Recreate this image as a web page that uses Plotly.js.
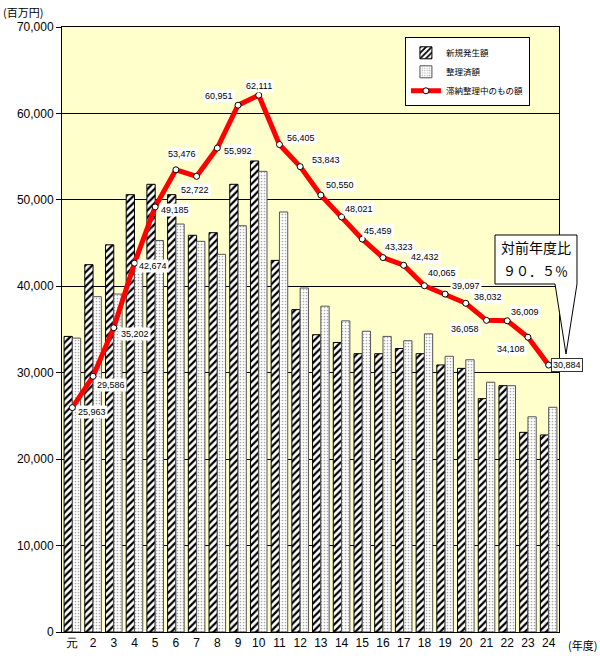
<!DOCTYPE html>
<html>
<head>
<meta charset="utf-8">
<script src="https://cdn.plot.ly/plotly-3.0.1.min.js"></script>
<style>html,body{margin:0;padding:0;background:#fff;}#chart{width:600px;height:660px;}</style>
</head>
<body>
<div id="chart"></div>
<script>
// ---- data ----
const years = ['元','2','3','4','5','6','7','8','9','10','11','12','13','14','15','16','17','18','19','20','21','22','23','24'];
const newAmount = [34200, 42500, 44800, 50600, 51800, 50600, 45900, 46200, 51800, 54500, 43000, 37300, 34400, 33500, 32200, 32200, 32800, 32200, 30900, 30500, 27000, 28500, 23100, 22800];
const settledAmount = [34000, 38800, 39100, 42700, 45300, 47200, 45200, 43700, 47000, 53300, 48600, 39800, 37700, 36000, 34800, 34200, 33700, 34500, 31900, 31500, 28900, 28500, 24900, 26000];
const pendingAmount = [25963, 29586, 35202, 42674, 49185, 53476, 52722, 55992, 60951, 62111, 56405, 53843, 50550, 48021, 45459, 43323, 42432, 40065, 39097, 38032, 36058, 36009, 34108, 30884];
const seriesNames = ['新規発生額', '整理済額', '滞納整理中のもの額'];

// ---- label offsets (style, pixels) ----
const labelDx = [20, 18, 21, 19, 20, 6, -2, 21, -19, 0, 22, 26, 19, 17, 16, 16, 21, 18, 21, 22, -22, 18, -17, 18];
const labelDy = [-4, -9, -6, -3, -3, 16, -14, -3, 9, 9, 7, 7, 10, 8, 8, 11, 8, 13, 8, 6, -9, 9, -12, 0];

const fmt = v => v.toLocaleString('en-US');
const numFont = 'Liberation Sans, Arial, sans-serif';
const jpFont = 'Noto Sans CJK JP, sans-serif';

const traces = [
  {
    type: 'bar', name: seriesNames[0], x: years, y: newAmount,
    marker: {color: '#ffffff', line: {color: '#000000', width: 1},
      pattern: {shape: '/', fgcolor: '#000000', bgcolor: '#ffffff', size: 5, solidity: 0.45}},
    hoverinfo: 'skip'
  },
  {
    type: 'bar', name: seriesNames[1], x: years, y: settledAmount,
    marker: {color: '#ffffff', line: {color: '#555555', width: 1},
      pattern: {shape: '.', fgcolor: '#aaaaaa', bgcolor: '#ffffff', size: 3, solidity: 0.25}},
    hoverinfo: 'skip'
  },
  {
    type: 'scatter', mode: 'lines+markers', name: seriesNames[2], x: years, y: pendingAmount,
    line: {color: '#ff0000', width: 5},
    marker: {symbol: 'circle', size: 6, color: '#ffffff', line: {color: '#000000', width: 1}},
    hoverinfo: 'skip'
  }
];

// category index i (numeric) so that names like '2' are not read as indices
const annotations = pendingAmount.map((v, i) => ({
  x: i, y: v, xref: 'x', yref: 'y', text: fmt(v), showarrow: false,
  xanchor: 'center', yanchor: 'middle',
  xshift: labelDx[i], yshift: labelDy[i],
  font: {family: numFont, size: 9, color: '#000'},
  bgcolor: '#ffffff',
  bordercolor: i === pendingAmount.length - 1 ? '#333333' : 'rgba(0,0,0,0)',
  borderwidth: 1, borderpad: 1
}));

annotations.push(
  {xref: 'paper', yref: 'paper', x: 0.9537, y: 0.6364, xanchor: 'center', yanchor: 'middle',
   text: '対前年度比', showarrow: false, font: {family: jpFont, size: 14, color: '#000'}},
  {xref: 'paper', yref: 'paper', x: 0.9537, y: 0.5983, xanchor: 'center', yanchor: 'middle',
   text: '９０．５％', showarrow: false, font: {family: jpFont, size: 13, color: '#000'}},
  {xref: 'paper', yref: 'paper', x: -0.078, y: 1.0248, xanchor: 'center', yanchor: 'middle',
   text: '(百万円)', showarrow: false, font: {family: jpFont, size: 11, color: '#000'}},
  {xref: 'paper', yref: 'paper', x: 1.048, y: -0.0215, xanchor: 'center', yanchor: 'middle',
   text: '(年度)', showarrow: false, font: {family: jpFont, size: 11, color: '#000'}}
);

const layout = {
  width: 600, height: 660,
  margin: {l: 62, r: 41, t: 27, b: 28, pad: 0},
  paper_bgcolor: '#ffffff', plot_bgcolor: '#ffffcc',
  barmode: 'group', bargap: 0.2, bargroupgap: 0,
  showlegend: true,
  legend: {x: 0.69, y: 0.983, xanchor: 'left', yanchor: 'top',
    bgcolor: '#ffffff', bordercolor: '#000000', borderwidth: 1,
    font: {family: jpFont, size: 8.5, color: '#000'}, tracegroupgap: 0, itemwidth: 30},
  xaxis: {type: 'category', range: [-0.5, years.length - 0.5], autorange: false,
    showline: true, linecolor: '#000', linewidth: 1, mirror: true,
    ticks: '', showgrid: false, tickfont: {family: numFont, size: 12, color: '#000'}, fixedrange: true},
  yaxis: {range: [0, 70000], autorange: false, dtick: 10000, tickformat: ',', showline: true, linecolor: '#000', linewidth: 1, mirror: true,
    ticks: 'outside', ticklen: 5, tickcolor: '#000', showgrid: true, gridcolor: '#000000', gridwidth: 1,
    zeroline: false, tickfont: {family: numFont, size: 12, color: '#000'}, fixedrange: true},
  shapes: [{
    type: 'path', xref: 'paper', yref: 'paper',
    path: 'M 0.8712 0.6562 L 1.0362 0.6562 L 1.0362 0.5752 L 1.0141 0.4595 L 0.9920 0.5752 L 0.8712 0.5752 Z',
    fillcolor: '#ffffff', line: {color: '#000000', width: 1}, layer: 'above'
  }],
  annotations: annotations
};

Plotly.newPlot('chart', traces, layout, {displayModeBar: false, staticPlot: true});
</script>
</body>
</html>
